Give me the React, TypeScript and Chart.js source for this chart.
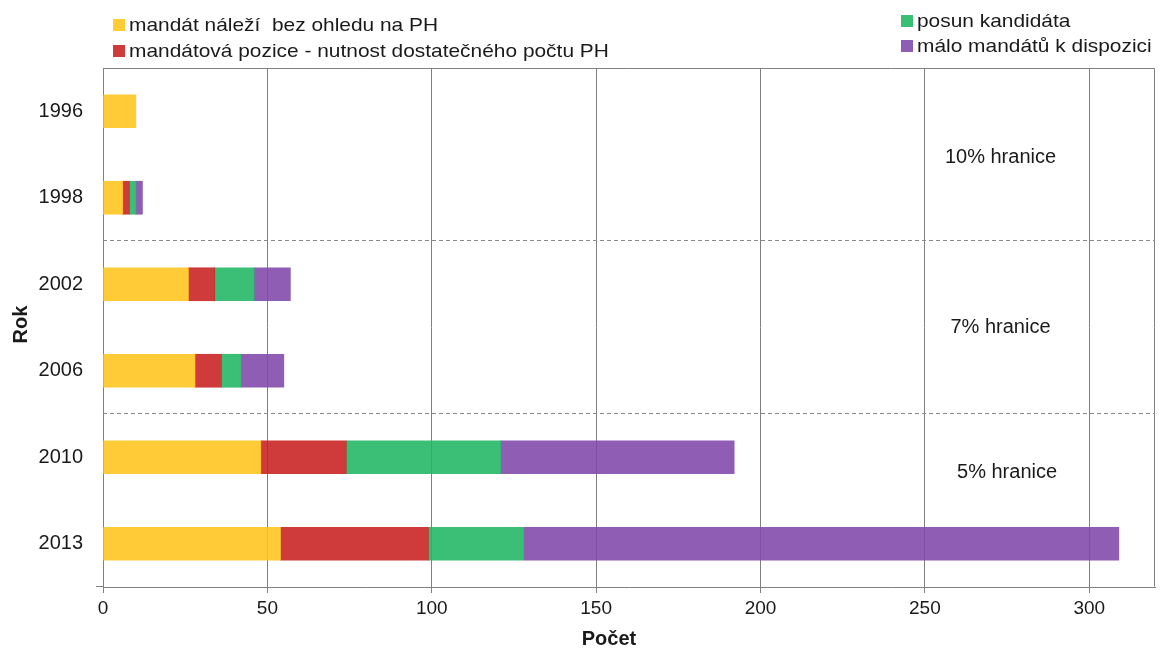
import { useEffect, useRef } from 'react';
import { Chart, registerables } from 'chart.js';

Chart.register(...registerables);

// ---- data ----
const years = ['1996', '1998', '2002', '2006', '2010', '2013'];
const seriesNames = [
  'mandát náleží  bez ohledu na PH',
  'mandátová pozice - nutnost dostatečného počtu PH',
  'posun kandidáta',
  'málo mandátů k dispozici',
];
const guaranteedSeat = [10, 6, 26, 28, 48, 54];
const seatPosition = [null, 2, 8, 8, 26, 45];
const candidateShift = [null, 2, 12, 6, 47, 29];
const fewSeats = [null, 2, 11, 13, 71, 181];
const xMax = 320;
const xStep = 50;
const thresholdLabels = ['10% hranice', '7% hranice', '5% hranice'];
const thresholdX = [273, 273, 275];
const thresholdY = [0.54, 2.5, 4.18];
const separatorY = [1.5, 3.5];
const xTitle = 'Počet';
const yTitle = 'Rok';

// ---- styles ----
const FONT = '"Liberation Sans", Arial, sans-serif';
const TEXT = '#1a1a1a';
const GRID = '#808080';
const barFill = [
  'rgba(255,197,27,0.88)',
  'rgba(200,31,31,0.88)',
  'rgba(32,182,100,0.88)',
  'rgba(127,72,170,0.88)',
];
const swatch = ['#FFCC36', '#CF3A3A', '#3BBF77', '#8E5EB4'];

const overlayPlugin = {
  id: 'overlay',
  afterDraw(chart: any) {
    const { ctx, chartArea: a, scales } = chart;
    const xs = scales.x;
    const ys = scales.y;
    ctx.save();
    // frame
    ctx.strokeStyle = GRID;
    ctx.lineWidth = 1;
    ctx.beginPath();
    const top = Math.round(a.top) + 0.5;
    const right = Math.round(a.right) - 0.5;
    const bottom = Math.round(a.bottom) - 0.5;
    ctx.moveTo(Math.round(a.left), top);
    ctx.lineTo(right, top);
    ctx.lineTo(right, bottom);
    ctx.moveTo(Math.round(a.left) - 7, bottom);
    ctx.lineTo(Math.round(a.left), bottom);
    ctx.stroke();

    // dashed separators
    ctx.setLineDash([4, 3]);
    ctx.strokeStyle = '#8a8a8a';
    separatorY.forEach((v) => {
      const py = Math.round(ys.getPixelForValue(v)) - 0.5;
      ctx.beginPath();
      ctx.moveTo(a.left, py);
      ctx.lineTo(a.right, py);
      ctx.stroke();
    });
    ctx.setLineDash([]);

    // threshold annotations
    ctx.fillStyle = TEXT;
    ctx.font = `20px ${FONT}`;
    ctx.textAlign = 'center';
    ctx.textBaseline = 'middle';
    thresholdLabels.forEach((t, i) => {
      ctx.fillText(t, xs.getPixelForValue(thresholdX[i]), ys.getPixelForValue(thresholdY[i]));
    });

    // axis titles
    ctx.font = `bold 20px ${FONT}`;
    ctx.fillText(xTitle, (a.left + a.right) / 2 - 20, chart.height - 9);
    ctx.save();
    ctx.translate(21, (a.top + a.bottom) / 2 - 3);
    ctx.rotate(-Math.PI / 2);
    ctx.fillText(yTitle, 0, 0);
    ctx.restore();

    // legend (two columns)
    const cols = [
      { sq: 113, tx: 129, ys: [25, 51] },
      { sq: 901, tx: 917, ys: [21, 46] },
    ];
    ctx.textAlign = 'left';
    ctx.font = `19px ${FONT}`;
    seriesNames.forEach((name, i) => {
      const c = cols[Math.floor(i / 2)];
      const cy = c.ys[i % 2];
      ctx.fillStyle = swatch[i];
      ctx.fillRect(c.sq, cy - 6, 12, 12);
      ctx.fillStyle = TEXT;
      ctx.save();
      ctx.translate(c.tx, cy + 1);
      ctx.scale(1.1, 1);
      ctx.fillText(name, 0, 0);
      ctx.restore();
    });
    ctx.restore();
  },
};

export default function App() {
  const ref = useRef<HTMLCanvasElement>(null);
  useEffect(() => {
    document.body.style.margin = '0';
    const canvas = ref.current!;
    const series = [guaranteedSeat, seatPosition, candidateShift, fewSeats];
    const chart = new Chart(canvas, {
      type: 'bar',
      data: {
        labels: years,
        datasets: series.map((d, i) => ({
          label: seriesNames[i],
          data: d,
          backgroundColor: barFill[i],
          borderWidth: 0,
          barThickness: 33,
        })),
      },
      options: {
        indexAxis: 'y',
        animation: false,
        responsive: false,
        devicePixelRatio: 1,
        layout: { padding: { top: 68, right: 5, bottom: 0, left: 0 } },
        plugins: {
          legend: { display: false },
          tooltip: { enabled: false },
        },
        scales: {
          x: {
            stacked: true,
            min: 0,
            max: xMax,
            afterFit: (s: any) => {
              s.height = 61;
            },
            ticks: {
              stepSize: xStep,
              includeBounds: false,
              color: TEXT,
              font: { family: FONT, size: 19 },
              padding: 4,
            },
            grid: {
              color: GRID,
              lineWidth: 1,
              tickLength: 6,
              drawTicks: true,
            },
            border: { display: true, color: GRID },
          },
          y: {
            stacked: true,
            afterFit: (s: any) => {
              s.width = 103;
            },
            ticks: {
              color: TEXT,
              font: { family: FONT, size: 20 },
              padding: 20,
            },
            grid: { display: false, drawTicks: false },
            border: { display: true, color: GRID },
          },
        },
      },
      plugins: [overlayPlugin],
    });
    return () => chart.destroy();
  }, []);
  return (
    <div style={{ width: 1160, height: 648, background: '#fff' }}>
      <canvas ref={ref} width={1160} height={648} style={{ display: 'block' }} />
    </div>
  );
}
